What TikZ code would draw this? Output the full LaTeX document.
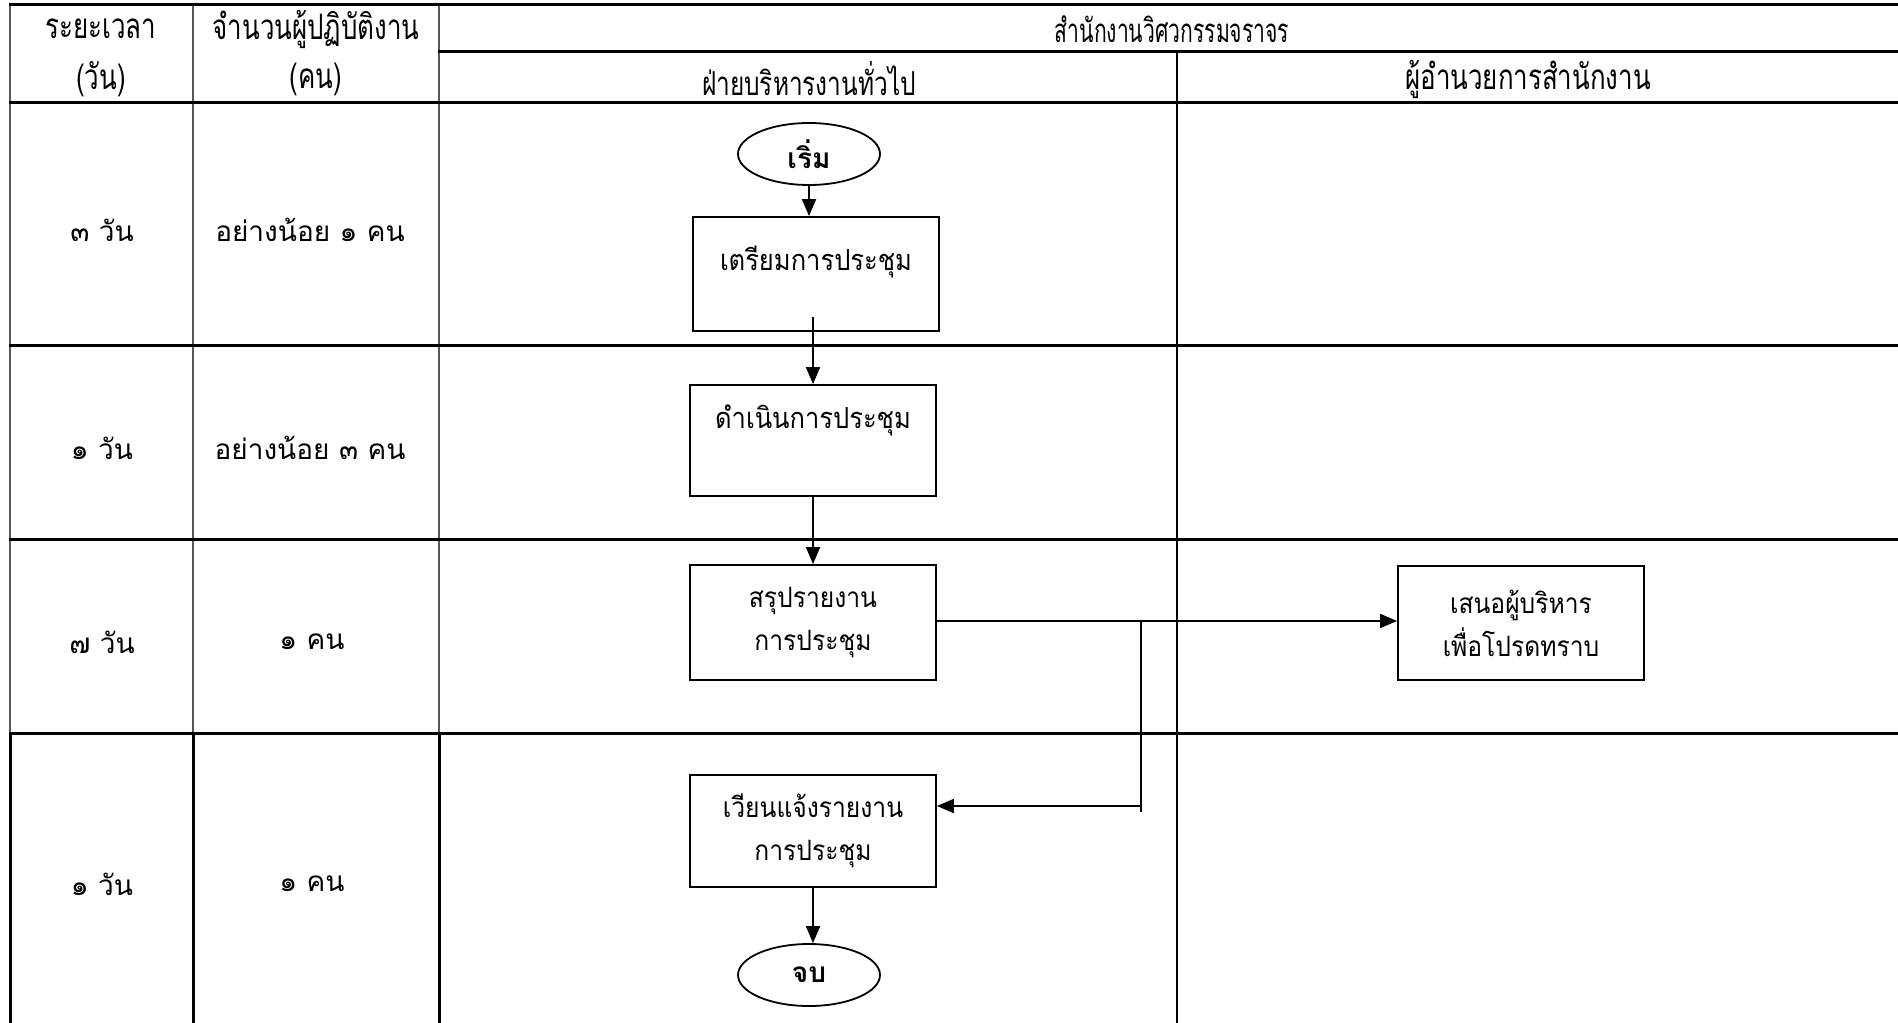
\documentclass[tikz,border=0pt]{standalone}
\usepackage{fontspec}
\setmainfont[Script=Thai]{Loma}
\newfontfamily\thainarrow[Script=Thai,FakeStretch=0.74]{Loma}
\newfontfamily\thaititle[Script=Thai,FakeStretch=0.64]{Loma}
\newfontfamily\thaibox[Script=Thai,FakeStretch=0.88]{Loma}
\usetikzlibrary{arrows.meta,shapes.geometric}

\tikzset{
  rowline/.style={line width=1.5pt, line cap=rect},
  gridline/.style={line width=1pt, draw=black!65},
  divline/.style={line width=0.7pt},
  headtext/.style={font=\thainarrow\fontsize{17.5}{20}\selectfont, inner sep=0pt},
  celltext/.style={font=\fontsize{14}{16}\selectfont, inner sep=0pt},
  stepbox/.style={draw, rectangle, line width=0.9pt, minimum width=123pt,
    align=center, inner sep=0pt, font=\thaibox\fontsize{14}{21.5}\selectfont},
  terminal/.style={draw, ellipse, line width=0.9pt, minimum width=71pt,
    minimum height=31pt, inner sep=0pt, font=\bfseries\fontsize{14}{17}\selectfont},
  flow/.style={line width=0.9pt},
  arr/.style={flow, -{Triangle[length=8.5pt,width=7pt]}},
}

\begin{document}
\begin{tikzpicture}[x=0.5pt,y=-0.5pt]
\useasboundingbox (0,0) rectangle (1898,1022);
\clip (0,0) rectangle (1898,1022);

% ---- table grid ----
\draw[gridline] (10,5) -- (10,733);
\draw[gridline] (193,5) -- (193,733);
\draw[gridline] (439,5) -- (439,733);
\draw[divline] (1177,52) -- (1177,733);
\draw[rowline] (10,733) -- (10,1040);
\draw[rowline] (193,733) -- (193,1040);
\draw[rowline] (439,733) -- (439,1040);
\draw[line width=1pt] (1177,733) -- (1177,1040);
\draw[rowline] (10,5) -- (1920,5);
\draw[rowline] (439,52) -- (1920,52);
\draw[rowline] (10,103) -- (1920,103);
\draw[rowline] (10,345) -- (1920,345);
\draw[rowline] (10,539) -- (1920,539);
\draw[rowline] (10,733) -- (1920,733);

% ---- header ----
\node[headtext] (hd1) at (101,29) {ระยะเวลา};
\node[headtext] (hd2) at (101,79) {(วัน)};
\node[headtext] (hd3) at (316,29) {จำนวนผู้ปฏิบัติงาน};
\node[headtext] (hd4) at (316,79) {(คน)};
\node[headtext, font=\thaititle\fontsize{16.5}{19}\selectfont] (hd5) at (1172,29) {สำนักงานวิศวกรรมจราจร};
\node[headtext, font=\thainarrow\fontsize{16.5}{19}\selectfont] (hd6) at (809,79) {ฝ่ายบริหารงานทั่วไป};
\node[headtext] (hd7) at (1528,79) {ผู้อำนวยการสำนักงาน};

% ---- time and staff per step ----
\node[celltext] (d1) at (102,230) {๓ วัน};
\node[celltext] (p1) at (310,230) {อย่างน้อย ๑ คน};
\node[celltext] (d2) at (102,448) {๑ วัน};
\node[celltext] (p2) at (310,448) {อย่างน้อย ๓ คน};
\node[celltext] (d3) at (102,642) {๗ วัน};
\node[celltext] (p3) at (312,642) {๑ คน};
\node[celltext] (d4) at (102,884) {๑ วัน};
\node[celltext] (p4) at (312,884) {๑ คน};

% ---- flow ----
\node[terminal] (st) at (809,154) {เริ่ม};
\node[stepbox, minimum height=57pt,
  label={[name=t1, font=\thaibox\fontsize{14.5}{17}\selectfont, yshift=6pt]center:เตรียมการประชุม}]
  (b1) at (816,274) {};
\node[stepbox, minimum height=55.5pt,
  label={[name=t2, font=\thaibox\fontsize{14.5}{17}\selectfont, yshift=10pt]center:ดำเนินการประชุม}]
  (b2) at (813,440.5) {};
\node[stepbox, minimum height=57.5pt] (b3) at (813,622.5) {สรุปรายงาน\\การประชุม};
\node[stepbox, minimum height=57pt] (b4) at (1521,623) {เสนอผู้บริหาร\\เพื่อโปรดทราบ};
\node[stepbox, minimum height=56pt] (b5) at (813,831) {เวียนแจ้งรายงาน\\การประชุม};
\node[terminal] (en) at (809,975) {จบ};

\coordinate (c1) at (813,317);
\coordinate (j1) at (1141,621);
\coordinate (j2) at (1141,812);
\coordinate (j3) at (1141,806);

\draw[arr] (st.south) -- (st.south |- b1.north);
\draw[arr] (c1) -- (b2.north);
\draw[arr] (b2.south) -- (b3.north);
\draw[arr] (b3.east |- j1) -- (b4.west |- j1);
\draw[flow] (j1) -- (j2);
\draw[arr] (j3) -- (j3 -| b5.east);
\draw[arr] (b5.south) -- (b5.south |- en.north);
\end{tikzpicture}
\end{document}
